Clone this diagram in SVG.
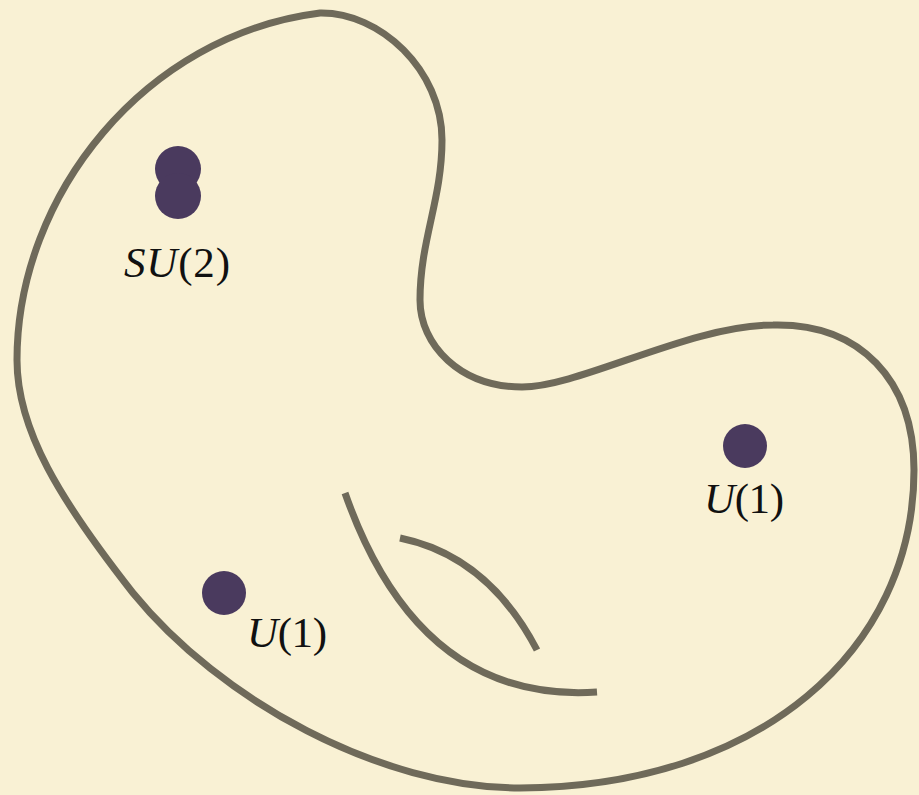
<svg xmlns="http://www.w3.org/2000/svg" width="919" height="795" viewBox="0 0 919 795">
  <style>
    .line { fill: none; stroke: #6F6A5A; stroke-width: 7; stroke-linecap: butt; stroke-linejoin: round; }
    .dot { fill: #4A3A5E; }
    .lbl { font-family: "Times New Roman", "Liberation Serif", "DejaVu Serif", serif; font-size: 43px; fill: #111; }
  </style>
  <rect x="0" y="0" width="919" height="795" fill="#F9F1D4"/>
  <g id="surface">
    <path class="line" d="M320,13 C380,12 442,70 442,140 C442,200 420,240 420,300 C420,345 460,387 522,387 C580,387 690,325 773,325 C860,323 914,380 914,470 C914,650 760,787 520,788 C380,788 220,700 133,593 C60,500 17,430 17,360 C17,195 145,35 320,13 Z"/>
  </g>
  <g id="connectors">
    <path class="line" d="M345,493 Q419,704 597,692"/>
    <path class="line" d="M400,538 Q488,556 537,650"/>
  </g>
  <g id="su2">
    <circle class="dot" cx="178" cy="169" r="23"/>
    <circle class="dot" cx="178" cy="196" r="23"/>
    <text class="lbl" x="124" y="277" textLength="106" lengthAdjust="spacing"><tspan font-style="italic">SU</tspan>(2)</text>
  </g>
  <g id="u1-left">
    <circle class="dot" cx="224" cy="593" r="22"/>
    <text class="lbl" x="247" y="647" textLength="80" lengthAdjust="spacing"><tspan font-style="italic">U</tspan>(1)</text>
  </g>
  <g id="u1-right">
    <circle class="dot" cx="745" cy="446" r="22"/>
    <text class="lbl" x="704" y="513" textLength="80" lengthAdjust="spacing"><tspan font-style="italic">U</tspan>(1)</text>
  </g>
</svg>
